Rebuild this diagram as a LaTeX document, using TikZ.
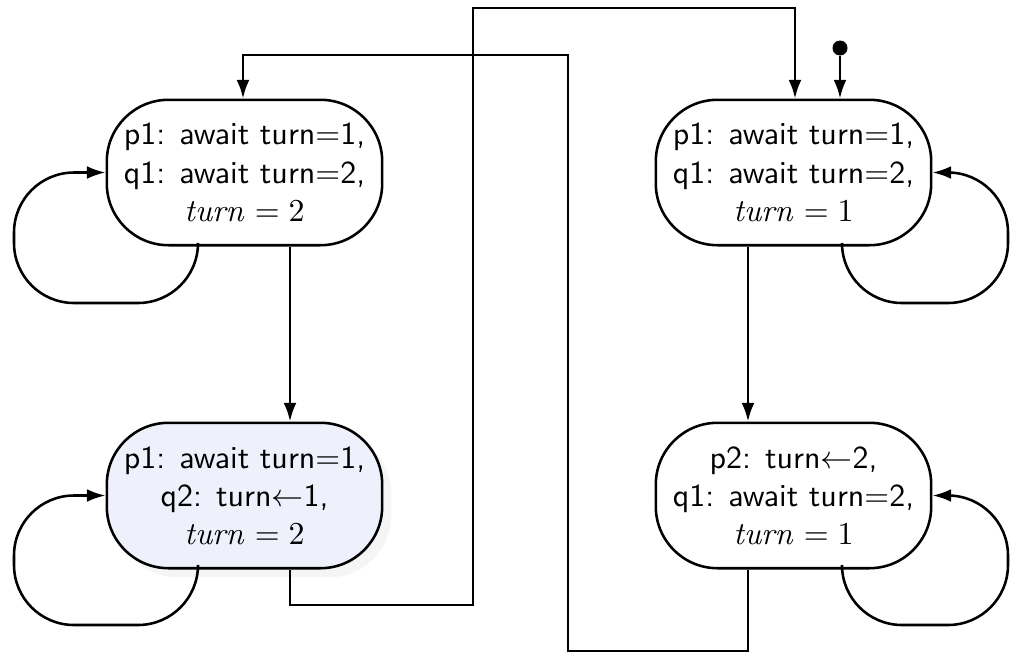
\documentclass[tikz,border=0pt]{standalone}
\usepackage{tikz}
\usetikzlibrary{calc,positioning,shadows,arrows.meta}
\definecolor{statefill}{RGB}{238,240,252}

\begin{document}
\begin{tikzpicture}[x=0.011cm,y=-0.011cm,
  state/.style={draw, thick, rounded corners=0.68cm, minimum width=3.03cm, minimum height=1.6cm, align=center, font=\sffamily, inner sep=0.4mm},
  edge/.style={thick, -{Latex[length=5.8pt,width=4pt]}},
  loopedge/.style={edge, rounded corners=0.66cm},
  initdot/.style={circle, fill=black, inner sep=0pt, minimum size=0.165cm}]

\useasboundingbox (0,0) rectangle (1010,654);

\coordinate (A) at (244.5,172.5);
\coordinate (B) at (244.5,495.5);
\coordinate (C) at (793.5,172.5);
\coordinate (D) at (793.5,495.5);

\node[state] (s11) at (A) {p1: await turn$=$1,\\q1: await turn$=$2,\\$\mathit{turn}=2$};
\node[state, fill=statefill, drop shadow={opacity=0.08, shadow xshift=0.1cm, shadow yshift=-0.1cm}] (s12) at (B) {p1: await turn$=$1,\\q2: turn$\leftarrow$1,\\$\mathit{turn}=2$};
\node[state] (s21) at (C) {p1: await turn$=$1,\\q1: await turn$=$2,\\$\mathit{turn}=1$};
\node[state] (s31) at (D) {p2: turn$\leftarrow$2,\\q1: await turn$=$2,\\$\mathit{turn}=1$};

\node[initdot] (init) at (840,48) {};

\draw[edge] (init) -- (s21.north -| init);
\draw[edge] (s11.south -| 290,0) -- (s12.north -| 290,0);
\draw[edge] (s21.south -| 748,0) -- (s31.north -| 748,0);
\draw[edge] (s12.south -| 290,0) |- (473,605) |- (795,8) -- (s21.north -| 795,0);
\draw[edge] (s31.south -| 748,0) |- (568,651) |- (243,55) -- (s11.north -| 243,0);

\draw[loopedge] (s11.south -| 198,0) |- (14,303) |- (s11.west);
\draw[loopedge] (s12.south -| 198,0) |- (14,625) |- (s12.west);
\draw[loopedge] (s21.south -| 842,0) |- (1008,303) |- (s21.east);
\draw[loopedge] (s31.south -| 842,0) |- (1008,625) |- (s31.east);

\end{tikzpicture}
\end{document}
